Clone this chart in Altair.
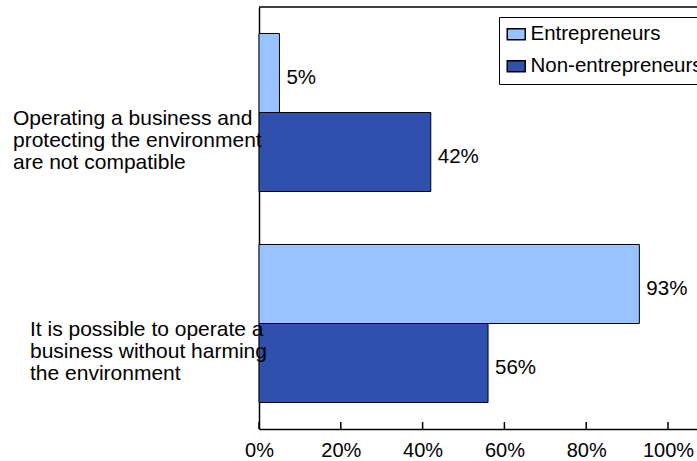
import altair as alt
import pandas as pd

# ---- data ----
categories = [
    "Operating a business and protecting the environment are not compatible",
    "It is possible to operate a business without harming the environment",
]
category_lines = [
    "\u00a0Operating a business and\nprotecting the environment\nare not compatible",
    "It is possible to operate a\nbusiness without harming\nthe environment",
]
series = ["Entrepreneurs", "Non-entrepreneurs"]
entrepreneurs = [0.05, 0.93]
non_entrepreneurs = [0.42, 0.56]
tick_values = [0, 0.2, 0.4, 0.6, 0.8, 1.0]
colors = ["#99C3FF", "#3050AD"]

FONT = "Liberation Sans"
W, H = 438, 422

rows = []
for i, c in enumerate(categories):
    rows.append({"category": c, "series": series[0], "value": entrepreneurs[i]})
    rows.append({"category": c, "series": series[1], "value": non_entrepreneurs[i]})
df = pd.DataFrame(rows)
labels_df = pd.DataFrame({"category": categories, "label": category_lines})
ticks_df = pd.DataFrame({"value": tick_values})
one_df = pd.DataFrame({"k": [0]})

x_enc = alt.X(
    "value:Q",
    scale=alt.Scale(domain=[0, 438 / 409], nice=False, zero=True),
    axis=alt.Axis(
        values=tick_values, format=".0%", grid=False, ticks=False, tickSize=0,
        labelPadding=11, labelFontSize=20, labelFont=FONT, labelColor="black",
        labelFlush=False, labelOverlap=False, domainColor="black", domainWidth=1.5,
        title=None,
    ),
)
y_enc = alt.Y(
    "category:N", sort=categories,
    scale=alt.Scale(paddingInner=0, paddingOuter=0),
    axis=alt.Axis(labels=False, ticks=False, title=None, domainColor="black", domainWidth=1.5),
)
yoff_enc = alt.YOffset(
    "series:N", sort=series, scale=alt.Scale(paddingInner=0, paddingOuter=0.335)
)

bars = alt.Chart(df).mark_bar(stroke="black", strokeWidth=1).encode(
    x=x_enc,
    y=y_enc,
    yOffset=yoff_enc,
    color=alt.Color(
        "series:N", sort=series,
        scale=alt.Scale(domain=series, range=colors),
        legend=alt.Legend(
            title=None, orient="none", legendX=240, legendY=10,
            strokeColor="black", padding=7, rowPadding=11,
            symbolType="M-1,-0.62H1V0.62H-1Z", symbolSize=324,
            symbolStrokeColor="black", symbolStrokeWidth=1.5, symbolOpacity=1,
            labelFontSize=20.5, labelFont=FONT, labelColor="black",
            labelLimit=400, labelOffset=4,
        ),
    ),
)

values_text = alt.Chart(df).mark_text(
    align="left", baseline="middle", dx=7, dy=5, fontSize=20.5, font=FONT, color="black"
).encode(
    x=alt.X("value:Q"),
    y=alt.Y("category:N", sort=categories),
    yOffset=alt.YOffset("series:N", sort=series),
    text=alt.Text("value:Q", format=".0%"),
)

cat_layers = []
for c, xpos in zip(categories, [-246, -229]):
    cat_layers.append(
        alt.Chart(labels_df).transform_filter(alt.datum.category == c).mark_text(
            align="left", baseline="middle", lineBreak="\n", lineHeight=22,
            fontSize=21, font=FONT, color="black", dy=6,
        ).encode(
            x=alt.value(xpos),
            y=alt.Y("category:N", sort=categories),
            text="label:N",
        )
    )

tick_rules = alt.Chart(ticks_df).mark_rule(color="black", strokeWidth=1.5).encode(
    x=alt.X("value:Q"),
    y=alt.value(H - 7),
    y2=alt.value(H),
)

top_line = alt.Chart(one_df).mark_rule(color="black", strokeWidth=1.5).encode(
    x=alt.value(0), x2=alt.value(W + 20), y=alt.value(0)
)

chart = alt.layer(bars, values_text, *cat_layers, tick_rules, top_line).properties(
    width=W, height=H,
    padding={"left": 259, "top": 7, "right": 0, "bottom": 32},
    autosize=alt.AutoSizeParams(type="none"),
    background="white",
).configure_view(strokeWidth=0)

chart.save("out.html", embed_options={"renderer": "svg", "actions": False})
